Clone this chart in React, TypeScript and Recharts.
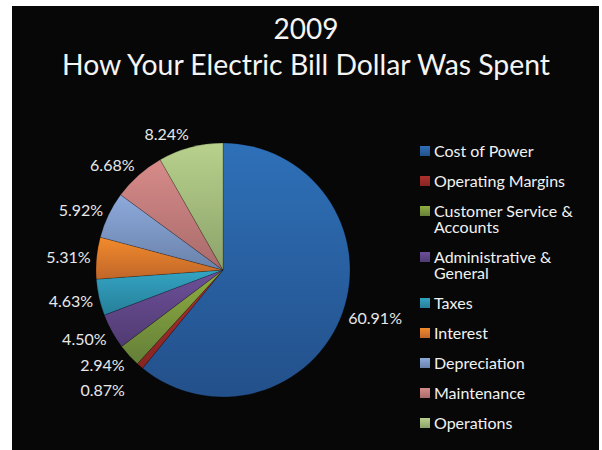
import React from 'react'
import { PieChart, Pie, Cell, Legend } from 'recharts'

// 2009 share of the electric bill dollar, in percent
const categories = [
  'Cost of Power',
  'Operating Margins',
  'Customer Service & Accounts',
  'Administrative & General',
  'Taxes',
  'Interest',
  'Depreciation',
  'Maintenance',
  'Operations',
]
const shares = [60.91, 0.87, 2.94, 4.5, 4.63, 5.31, 5.92, 6.68, 8.24]

const titleYear = '2009'
const titleText = 'How Your Electric Bill Dollar Was Spent'

// light top / dark bottom of each slice gradient
const topColors = ['#2e70b8', '#ad312d', '#8eae42', '#6d509a', '#34a4c3', '#f28b2b', '#8daadc', '#d78b8a', '#b8d18c']
const bottomColors = ['#23508a', '#862523', '#647f38', '#513b72', '#267f99', '#c0662a', '#6a82aa', '#a86b6a', '#8ca26b']

const data = categories.map((name, i) => ({ name, value: shares[i] }))

const WIDTH = 587
const HEIGHT = 444
const CX = 211
const CY = 264
const RADIUS = 127
const START = 90
const FONT = 'Lato, "Open Sans", sans-serif'

const formatPct = (v: number) => `${v.toFixed(2)}%`

/**
 * Place the outside-end labels; small neighbouring slices get pushed outward
 * along their ray until the boxes no longer overlap (last slice placed first).
 */
const layoutLabels = () => {
  const total = shares.reduce((a, b) => a + b, 0)
  let cum = 0
  const mids = shares.map((v) => {
    const mid = START - (360 * (cum + v / 2)) / total
    cum += v
    return mid
  })
  const out: Array<{ x: number; y: number; anchor: string }> = []
  const boxes: Array<{ x0: number; x1: number; y0: number; y1: number }> = []
  for (let i = shares.length - 1; i >= 0; i--) {
    const rad = (-mids[i] * Math.PI) / 180
    const ux = Math.cos(rad)
    const uy = Math.sin(rad)
    const w = formatPct(shares[i]).length * 8.8
    const h = 16
    const anchor = ux < -0.05 ? 'end' : ux > 0.05 ? 'start' : 'middle'
    const at = (t: number) => {
      const x = CX + ux * (RADIUS + 6 + t)
      const y = CY + uy * (RADIUS + 14 + t)
      const x0 = anchor === 'end' ? x - w : anchor === 'start' ? x : x - w / 2
      return { x, y, box: { x0, x1: x0 + w, y0: y - h / 2 - 4, y1: y + h / 2 + 4 } }
    }
    let t = 0
    let pos = at(t)
    const hits = (b: any) => boxes.some((p) => b.x0 < p.x1 && b.x1 > p.x0 && b.y0 < p.y1 && b.y1 > p.y0)
    while (hits(pos.box) && t < 60) {
      t += 1
      pos = at(t)
    }
    boxes.push(pos.box)
    out[i] = { x: pos.x, y: pos.y, anchor }
  }
  return out
}

const labelPos = layoutLabels()

const renderLabel = (props: any) => {
  const { index, value } = props
  const p = labelPos[index]
  return (
    <text
      x={p.x}
      y={p.y}
      textAnchor={p.anchor as any}
      dominantBaseline="central"
      fill="#e8e8e8"
      fontSize={16}
      fontFamily={FONT}
    >
      {formatPct(Number(value))}
    </text>
  )
}

const renderLegend = () => (
  <div style={{ fontFamily: FONT, fontSize: 16, color: '#f2f2f2', width: 170 }}>
    {categories.map((name, i) => (
      <div key={name} style={{ display: 'flex', alignItems: 'flex-start', marginBottom: 14, lineHeight: '16px' }}>
        <div
          style={{
            width: 10,
            height: 10,
            marginTop: 3,
            marginRight: 4,
            flexShrink: 0,
            background: `linear-gradient(${topColors[i]}, ${bottomColors[i]})`,
          }}
        />
        <div style={{ width: 150 }}>{name}</div>
      </div>
    ))}
  </div>
)

export default function App() {
  return (
    <div
      style={{
        position: 'absolute',
        left: 12,
        top: 6,
        width: WIDTH,
        height: HEIGHT,
        background: '#070707',
      }}
    >
      {/* Title */}
      <svg width={WIDTH} height={90} style={{ position: 'absolute', left: 0, top: 0 }}>
        <text x={294} y={33} textAnchor="middle" fill="#f4f4f4" fontSize={28} fontFamily={FONT}
          textLength={65} lengthAdjust="spacingAndGlyphs">
          {titleYear}
        </text>
        <text x={294} y={69} textAnchor="middle" fill="#f4f4f4" fontSize={28} fontFamily={FONT}
          textLength={488} lengthAdjust="spacingAndGlyphs">
          {titleText}
        </text>
      </svg>

      <div style={{ position: 'absolute', left: 0, top: 0 }}>
        <PieChart width={WIDTH} height={HEIGHT} margin={{ top: 0, right: 0, bottom: 0, left: 0 }}>
          <defs>
            {categories.map((_, i) => (
              <linearGradient key={i} id={`slice${i}`} x1="0" y1="0" x2="0" y2="1">
                <stop offset="0%" stopColor={topColors[i]} />
                <stop offset="100%" stopColor={bottomColors[i]} />
              </linearGradient>
            ))}
          </defs>

          {/* Legend */}
          <Legend
            content={renderLegend}
            wrapperStyle={{ position: 'absolute', left: 408, top: 137, width: 175 }}
          />

          {/* Slices, clockwise from 12 o'clock */}
          <Pie
            data={data}
            dataKey="value"
            nameKey="name"
            cx={CX}
            cy={CY}
            outerRadius={RADIUS}
            startAngle={START}
            endAngle={START - 360}
            stroke="rgba(0,0,0,0.35)"
            strokeWidth={0.6}
            label={renderLabel}
            labelLine={false}
            isAnimationActive={false}
          >
            {data.map((_, i) => (
              <Cell key={i} fill={`url(#slice${i})`} />
            ))}
          </Pie>
        </PieChart>
      </div>
    </div>
  )
}
